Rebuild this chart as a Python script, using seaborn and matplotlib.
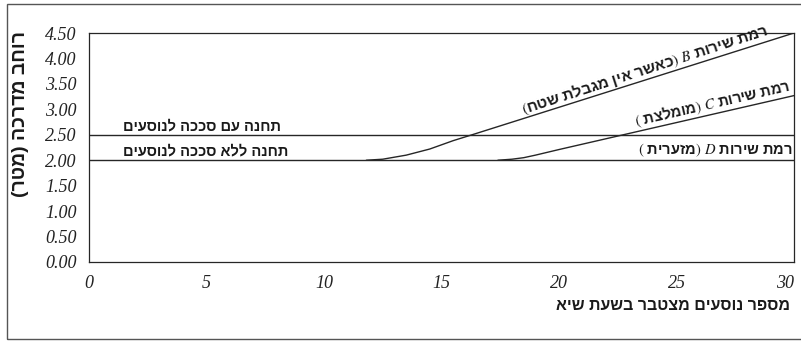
import numpy as np
import pandas as pd
import matplotlib
matplotlib.use("Agg")
import matplotlib.pyplot as plt
import seaborn as sns
from matplotlib.patches import Rectangle

# ---------------- data ----------------
x_ticks = [0, 5, 10, 15, 20, 25, 30]
y_ticks = [0.0, 0.5, 1.0, 1.5, 2.0, 2.5, 3.0, 3.5, 4.0, 4.5]

shelter_x = [0, 30]
shelter_y = [2.5, 2.5]
no_shelter_x = [0, 30]
no_shelter_y = [2.0, 2.0]

los_b_x = [11.8, 12.5, 13.5, 14.5, 15.5, 16.3, 30.0]
los_b_y = [2.0, 2.02, 2.10, 2.22, 2.385, 2.5, 4.5]
los_c_x = [17.4, 18.0, 18.5, 19.0, 20.0, 30.0]
los_c_y = [2.0, 2.02, 2.05, 2.10, 2.21, 3.27]

lbl_shelter = "תחנה עם סככה לנוסעים"
lbl_no_shelter = "תחנה ללא סככה לנוסעים"
lbl_b = "רמת שירות B (כאשר אין מגבלת שטח)"
lbl_c = "רמת שירות C (מומלצת )"
lbl_d = "רמת שירות D (מזערית )"
x_title = "מספר נוסעים מצטבר בשעת שיא"
y_title = "רוחב מדרכה (מטר)"


def rtl(s):
    """Visual (left-to-right) order for right-to-left Hebrew text."""
    r = s[::-1]
    return r.translate(str.maketrans({"(": ")", ")": "("}))


def rtl_math(s, letter):
    v = rtl(s)
    v = v.replace("(", "$($").replace(")", "$)$")
    v = v.replace(" " + letter + " ", " $" + letter + "$ ")
    return v


# ---------------- style ----------------
sns.set_theme(style="white")
plt.rcParams["font.family"] = ["Liberation Sans", "DejaVu Sans"]
plt.rcParams["mathtext.fontset"] = "stix"

W, H = 801, 341
fig = plt.figure(figsize=(W / 100, H / 100), dpi=100)
ax = fig.add_axes([89 / W, 1 - 262 / H, (794 - 89) / W, (262 - 33) / H])

LC = "#262626"
LW = 1.0
for xs, ys in [(shelter_x, shelter_y), (no_shelter_x, no_shelter_y),
               (los_b_x, los_b_y), (los_c_x, los_c_y)]:
    sns.lineplot(x=xs, y=ys, ax=ax, color=LC, lw=LW, sort=False,
                 estimator=None, legend=False)

ax.set_xlim(0, 30)
ax.set_ylim(0, 4.5)
ax.set_xticks(x_ticks)
ax.set_yticks(y_ticks)
ax.set_xticklabels([str(v) for v in x_ticks])
ax.set_yticklabels([f"{v:.2f}" for v in y_ticks])
ax.tick_params(axis="both", direction="inout", length=8, width=0.9,
               color=LC, labelcolor="#222222")
ax.tick_params(axis="x", pad=5)
ax.tick_params(axis="y", pad=5)
for lab in ax.get_xticklabels() + ax.get_yticklabels():
    lab.set_fontfamily("Liberation Serif")
    lab.set_fontstyle("italic")
    lab.set_fontsize(13)
ax.get_xticklabels()[-1].set_horizontalalignment("right")
for sp in ax.spines.values():
    sp.set_color(LC)
    sp.set_linewidth(0.9)
ax.set_xlabel("")
ax.set_ylabel("")

TXT = dict(fontweight="bold", color="#1a1a1a", family="Liberation Sans")

ax.text(1.45, 2.53, rtl(lbl_shelter), ha="left", va="bottom",
        fontsize=10.5, **TXT)
ax.text(1.45, 2.03, rtl(lbl_no_shelter), ha="left", va="bottom",
        fontsize=10.5, **TXT)
ax.text(29.95, 2.03, rtl_math(lbl_d, "D"), ha="right", va="bottom",
        fontsize=10.5, **TXT)
ax.text(23.8, 3.60, rtl_math(lbl_b, "B"), ha="center", va="bottom",
        rotation=18, rotation_mode="anchor", fontsize=11, **TXT)
ax.text(26.6, 2.93, rtl_math(lbl_c, "C"), ha="center", va="bottom",
        rotation=13, rotation_mode="anchor", fontsize=10.5, **TXT)

fig.text(790 / W, 1 - 305 / H, rtl(x_title), ha="right", va="center",
         fontweight="bold", fontsize=11.5, color="#1a1a1a",
         family="Liberation Sans")
fig.text(21 / W, 1 - 114 / H, rtl(y_title), ha="center", va="center",
         rotation=90, fontweight="bold", fontsize=14, color="#1a1a1a",
         family="Liberation Sans")

fig.patches.append(Rectangle((7 / W, 2 / H), 2.0, 335 / H,
                             transform=fig.transFigure, fill=False,
                             lw=1.0, ec="#555555"))

fig.savefig("out.png", dpi=100)
